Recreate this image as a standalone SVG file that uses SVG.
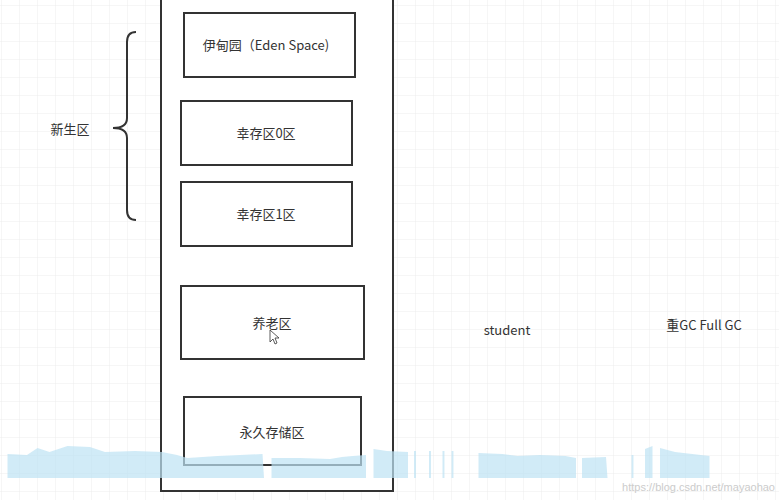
<svg xmlns="http://www.w3.org/2000/svg" width="779" height="500" viewBox="0 0 779 500">
<defs>
<pattern id="g" width="18" height="18" patternUnits="userSpaceOnUse" x="2" y="6">
<path d="M18 0V18M0 18H18" fill="none" stroke="#ececec" stroke-width="1"/>
</pattern>
<style>
.b{fill:#fff;stroke:#333;stroke-width:2}
.t{font-family:"Noto Sans CJK SC","Liberation Sans",sans-serif;font-size:13px;fill:#333;text-anchor:middle}
.w{fill:#bde2f3;opacity:0.7}
</style>
</defs>
<rect width="779" height="500" fill="#fff"/>
<rect width="779" height="500" fill="url(#g)"/>
<g id="heap"><rect class="b" x="161" y="-2" width="232" height="493"/></g>
<g id="eden"><rect class="b" x="184" y="13" width="171" height="64"/><text class="t" x="266" y="50">伊甸园（Eden Space)</text></g>
<g id="s0"><rect class="b" x="181" y="101" width="171" height="64"/><text class="t" x="266" y="138">幸存区0区</text></g>
<g id="s1"><rect class="b" x="181" y="182" width="171" height="64"/><text class="t" x="266" y="219">幸存区1区</text></g>
<g id="old"><rect class="b" x="181" y="286" width="183" height="73"/><text class="t" x="272" y="328">养老区</text></g>
<g id="perm"><rect class="b" x="184" y="397" width="177" height="68"/><text class="t" x="272" y="437">永久存储区</text></g>
<g id="connectors"><path d="M136 32Q127 32 127 42V118Q127 128 113 128Q127 128 127 138V210Q127 220 136 220" fill="none" stroke="#333" stroke-width="2"/></g>
<g id="labels">
<text class="t" x="70" y="134">新生区</text>
<text class="t" x="507" y="335">student</text>
<text class="t" x="704" y="330">重GC  Full GC</text>
</g>
<path d="M270 330l0 12 3-3 2 5 2-1-2-5 4 0z" fill="#fff" stroke="#333" stroke-width="0.8"/>
<g transform="scale(1.5 1)">
<path class="w" d="M5 454 L18 455 L25 448 L33 452 L45 446 L60 447 L70 452 L90 451 L108 452 L118 455 L125 458 L145 456 L160 455 L175 454 L176 478 L5 478Z M181 458 L200 458 L220 459 L228 457 L235 456 L244 455 L244 478 L181 478Z M249 449 L258 451 L272 452 L272 478 L249 478Z M319 453 L335 454 L345 456 L360 455 L377 456 L384 458 L384 478 L319 478Z M388 458 L404 457 L405 478 L388 478Z M430 449 L435 446 L435 478 L430 478Z M440 448 L450 452 L473 456 L473 478 L440 478Z"/>
<rect class="w" x="276" y="451" width="1.3" height="27"/>
<rect class="w" x="286" y="451" width="1.3" height="27"/>
<rect class="w" x="295" y="451" width="1.3" height="27"/>
<rect class="w" x="301" y="451" width="1.3" height="27"/>
<rect class="w" x="421" y="455" width="1.3" height="23"/>
</g>
<text x="775" y="491" font-family="Liberation Sans,sans-serif" font-size="11" fill="#ccc" text-anchor="end">https://blog.csdn.net/mayaohao</text>
</svg>
